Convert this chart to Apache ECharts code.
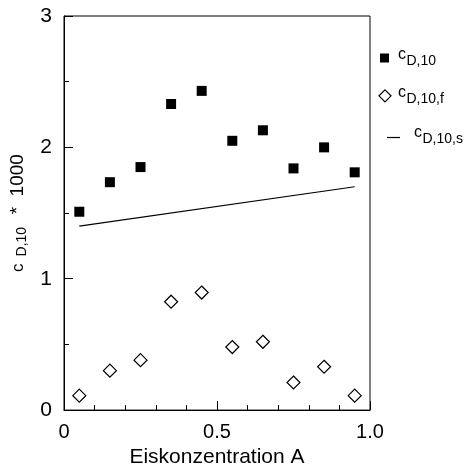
<!DOCTYPE html>
<html>
<head>
<meta charset="utf-8">
<script src="https://cdn.jsdelivr.net/npm/echarts@6/dist/echarts.min.js"></script>
<style>
html,body{margin:0;padding:0;background:#fff;}
#chart{width:471px;height:473px;}
</style>
</head>
<body>
<div id="chart"></div>
<script>
// ---- data ----
var xValues = [0.05, 0.15, 0.25, 0.35, 0.45, 0.55, 0.65, 0.75, 0.85, 0.95];
var cD10 = [1.51, 1.735, 1.85, 2.33, 2.43, 2.05, 2.13, 1.84, 2.00, 1.81];
var cD10f = [0.11, 0.30, 0.38, 0.825, 0.895, 0.48, 0.52, 0.21, 0.33, 0.11];
var cD10sX = [0.05, 0.95];
var cD10sY = [1.40, 1.70];
var xTickLabels = {0: '0', 0.5: '0.5', 1: '1.0'};
var legendSubs = ['D,10', 'D,10,f', 'D,10,s'];

var FONT = 'Liberation Sans, Arial, Helvetica, sans-serif';

function pairs(xs, ys) { return xs.map(function (x, i) { return [x, ys[i]]; }); }

var chart = echarts.init(document.getElementById('chart'), null, {renderer: 'canvas'});

function legendLabel(x, baseY, sub) {
  return [
    {type: 'text', left: x, top: baseY - 15, silent: true,
     style: {text: 'c', font: '16px ' + FONT, fill: '#000'}},
    {type: 'text', left: x + 8.5, top: baseY - 8, silent: true,
     style: {text: sub, font: '14px ' + FONT, fill: '#000'}}
  ];
}

var graphics = [];
// legend item 1: filled square
graphics.push({type: 'rect', shape: {x: 380, y: 53.5, width: 9, height: 9}, style: {fill: '#000'}, silent: true});
graphics = graphics.concat(legendLabel(398, 62, legendSubs[0]));
// legend item 2: open diamond
graphics.push({type: 'polygon', shape: {points: [[385, 89.8], [391, 95.8], [385, 101.8], [379, 95.8]]},
  style: {fill: '#fff', stroke: '#000', lineWidth: 1.2}, silent: true});
graphics = graphics.concat(legendLabel(398, 100, legendSubs[1]));
// legend item 3: line
graphics.push({type: 'line', shape: {x1: 387, y1: 137.5, x2: 400, y2: 137.5}, style: {stroke: '#000', lineWidth: 1.2}, silent: true});
graphics = graphics.concat(legendLabel(414, 140, legendSubs[2]));

var option = {
  animation: false,
  backgroundColor: '#fff',
  grid: {left: 64, right: 101, top: 16, bottom: 56, show: true, borderColor: '#000', borderWidth: 1},
  xAxis: {
    type: 'value', min: 0, max: 1, interval: 0.5,
    axisLine: {show: true, lineStyle: {color: '#000', width: 1}},
    axisTick: {show: true, inside: true, length: 9, lineStyle: {color: '#000'}},
    minorTick: {show: true, splitNumber: 5, length: 5, lineStyle: {color: '#000'}},
    splitLine: {show: false},
    axisLabel: {color: '#000', fontSize: 20, fontFamily: FONT, margin: 12,
      formatter: function (v) { return xTickLabels[v] !== undefined ? xTickLabels[v] : String(v); }},
    name: 'Eiskonzentration A', nameLocation: 'middle', nameGap: 32,
    nameTextStyle: {color: '#000', fontSize: 21, fontFamily: FONT}
  },
  yAxis: {
    type: 'value', min: 0, max: 3, interval: 1,
    axisLine: {show: true, lineStyle: {color: '#000', width: 1}},
    axisTick: {show: true, inside: true, length: 9, lineStyle: {color: '#000'}},
    minorTick: {show: true, splitNumber: 2, length: 5, lineStyle: {color: '#000'}},
    splitLine: {show: false},
    axisLabel: {color: '#000', fontSize: 21, fontFamily: FONT, margin: 12},
    name: '{c|c}{s|D,10}{n|  *  1000}', nameLocation: 'middle', nameGap: 31, nameRotate: 90,
    nameTextStyle: {color: '#000', fontFamily: FONT,
      rich: {
        c: {fontSize: 17, fontFamily: FONT, color: '#000', padding: [0, 7, 0, 0]},
        s: {fontSize: 14, fontFamily: FONT, color: '#000', padding: [9, 2, 0, 0]},
        n: {fontSize: 19, fontFamily: FONT, color: '#000'}
      }}
  },
  series: [
    {name: 'cD10', type: 'scatter', data: pairs(xValues, cD10), symbol: 'rect', symbolSize: 10,
     itemStyle: {color: '#000', opacity: 1}},
    {name: 'cD10f', type: 'scatter', data: pairs(xValues, cD10f), symbol: 'diamond', symbolSize: 13,
     itemStyle: {color: '#fff', borderColor: '#000', borderWidth: 1.2, opacity: 1}},
    {name: 'cD10s', type: 'line', data: pairs(cD10sX, cD10sY), symbol: 'none',
     lineStyle: {color: '#000', width: 1.2}}
  ],
  graphic: graphics
};
chart.setOption(option);
</script>
</body>
</html>
